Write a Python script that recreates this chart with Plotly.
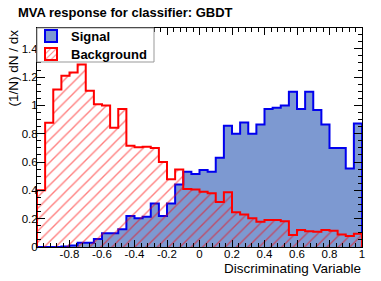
import plotly.graph_objects as go

# ---- data -------------------------------------------------------------
x_min = -1.0
x_max = 1.0
n_bins = 40

signal = [0.0, 0.0, 0.0, 0.004, 0.01, 0.03, 0.03, 0.056, 0.097, 0.097,
          0.125, 0.219, 0.203, 0.214, 0.308, 0.219, 0.308, 0.442, 0.531, 0.515,
          0.543, 0.531, 0.63, 0.856, 0.80, 0.88, 0.80, 0.866, 0.974, 0.983,
          1.0, 1.096, 0.974, 1.096, 0.967, 0.866, 0.70, 0.70, 0.555, 0.873]

background = [0.40, 0.877, 1.113, 1.21, 1.233, 1.289, 1.103, 1.009, 1.0, 0.842,
              0.975, 0.716, 0.705, 0.708, 0.70, 0.60, 0.478, 0.548, 0.41, 0.407,
              0.39, 0.38, 0.318, 0.386, 0.246, 0.23, 0.203, 0.179, 0.19, 0.19,
              0.182, 0.085, 0.12, 0.112, 0.108, 0.12, 0.115, 0.088, 0.078, 0.093]

x_tick_vals = [-1.0, -0.8, -0.6, -0.4, -0.2, 0.0, 0.2, 0.4, 0.6, 0.8, 1.0]
x_tick_text = ["", "-0.8", "-0.6", "-0.4", "-0.2", "0", "0.2", "0.4", "0.6", "0.8", "1"]
y_tick_vals = [0.0, 0.2, 0.4, 0.6, 0.8, 1.0, 1.2, 1.4]
y_tick_text = ["0", "0.2", "0.4", "0.6", "0.8", "1", "1.2", "1.4"]

series_names = ["Signal", "Background"]
title_text = "MVA response for classifier: GBDT"
x_title = "Discriminating Variable"
y_title = "(1/N) dN / dx"

# ---- derived ----------------------------------------------------------
bin_width = (x_max - x_min) / n_bins
edges = [x_min + i * bin_width for i in range(n_bins + 1)]
y_max = 1.2 * max(max(signal), max(background))


def step_path(values):
    xs = [edges[0]] + edges[:-1] + [edges[-1], edges[-1]]
    ys = [0.0] + list(values) + [values[-1], 0.0]
    return xs, ys


FONT = "Liberation Sans, Arial, Helvetica, sans-serif"
SIG_FILL = "#7d99d1"
SIG_LINE = "#0000ee"
BKG_COL = "#ff0000"

W, H = 381, 281
ML, MR, MT, MB = 37, 19, 28, 34
PW, PH = W - ML - MR, H - MT - MB


def px_x(p):  # figure pixel -> paper x
    return (p - ML) / PW


def px_y(p):  # figure pixel -> paper y
    return 1 - (p - MT) / PH


fig = go.Figure()

sx, sy = step_path(signal)
fig.add_trace(go.Scatter(
    x=sx, y=sy, mode="lines", line=dict(shape="hv", color=SIG_LINE, width=2),
    fill="tozeroy", fillcolor=SIG_FILL, showlegend=False, hoverinfo="skip"))

bx, by = step_path(background)
fig.add_trace(go.Scatter(
    x=bx, y=by, mode="lines", line=dict(shape="hv", color=BKG_COL, width=2),
    fill="tozeroy", fillcolor="rgba(0,0,0,0)",
    fillpattern=dict(shape="/", fgcolor=BKG_COL, size=8, solidity=0.17,
                     fillmode="overlay"),
    showlegend=False, hoverinfo="skip"))

# legend entries (box symbols), each in its own legend for tight spacing
fig.add_trace(go.Bar(x=[None], y=[None], name=series_names[0], legend="legend",
                     marker=dict(color=SIG_FILL, line=dict(color=SIG_LINE, width=2))))
fig.add_trace(go.Bar(x=[None], y=[None], name=series_names[1], legend="legend2",
                     marker=dict(color="white", line=dict(color=BKG_COL, width=2),
                                 pattern=dict(shape="/", fgcolor=BKG_COL, size=5,
                                              solidity=0.25, fillmode="overlay"))))

axis_common = dict(showline=True, linecolor="black", linewidth=1, mirror="ticks",
                   ticks="inside", tickcolor="black", showgrid=False, zeroline=False,
                   tickfont=dict(family=FONT, size=11.5, color="black"))

fig.update_xaxes(range=[x_min, x_max], tickmode="array", tickvals=x_tick_vals,
                 ticktext=x_tick_text, ticklen=7, ticklabelstandoff=-4,
                 minor=dict(dtick=0.04, tick0=-1, ticklen=4, ticks="inside",
                            tickcolor="black", showgrid=False),
                 **axis_common)
fig.update_yaxes(range=[0, y_max], tickmode="array", tickvals=y_tick_vals,
                 ticktext=y_tick_text, ticklen=8, ticklabelstandoff=-4,
                 minor=dict(dtick=0.05, tick0=0, ticklen=4, ticks="inside",
                            tickcolor="black", showgrid=False),
                 **axis_common)

legend_common = dict(xanchor="left", yanchor="middle", bgcolor="rgba(0,0,0,0)",
                     borderwidth=0, itemwidth=30,
                     font=dict(family=FONT, size=13, color="black", weight="bold"))

fig.update_layout(
    width=W, height=H,
    margin=dict(l=ML, r=MR, t=MT, b=MB),
    paper_bgcolor="white", plot_bgcolor="white",
    legend=dict(x=px_x(31), y=px_y(36), **legend_common),
    legend2=dict(x=px_x(31), y=px_y(54), **legend_common),
    barmode="overlay",
    showlegend=True,
    shapes=[dict(type="rect", xref="paper", yref="paper", layer="above",
                 x0=0, x1=px_x(154), y0=px_y(62), y1=1,
                 fillcolor="white", line=dict(color="#999999", width=1))],
    annotations=[
        dict(text="<b>" + title_text + "</b>", xref="paper", yref="paper",
             x=px_x(16), y=px_y(12), xanchor="left", yanchor="middle",
             showarrow=False, font=dict(family=FONT, size=13, color="black")),
        dict(text=x_title, xref="paper", yref="paper", x=px_x(363), y=px_y(268),
             xanchor="right", yanchor="middle", showarrow=False,
             font=dict(family=FONT, size=13.5, color="black")),
        dict(text=y_title, xref="paper", yref="paper", x=px_x(13), y=px_y(27),
             xanchor="center", yanchor="top", textangle=-90, showarrow=False,
             font=dict(family=FONT, size=13.5, color="black")),
    ],
)

fig.write_html("out.html", config={"displayModeBar": False},
               post_script="document.body.style.margin='0';document.body.style.padding='0';")
